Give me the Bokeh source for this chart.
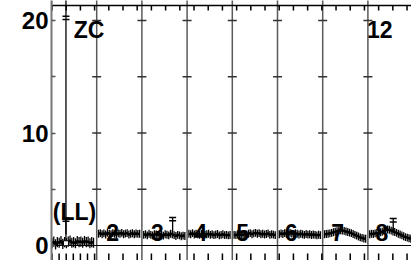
import numpy as np
from bokeh.plotting import figure
from bokeh.models import Range1d, FixedTicker
from bokeh.embed import file_html
from bokeh.resources import INLINE
from bokeh.core.properties import value

# ---- data ----
seg1 = [0.20, 0.35, 0.10, 0.30, 0.25, 0.40, 0.15, 0.30, 0.20, 0.35, 0.45, 0.25,
        0.30, 0.20, 0.40, 0.30, 0.35, 0.25, 0.40, 0.30, 0.35, 0.20, 0.30, 0.25]
seg2 = [1.05, 1.10, 1.00, 1.08, 0.98, 1.12, 1.05, 1.00, 1.10, 1.03, 0.97, 1.08,
        1.05, 1.12, 1.00, 1.06, 1.10, 0.98, 1.04, 1.09, 1.00, 1.07, 1.03, 1.05]
seg3 = [0.95, 1.00, 0.90, 1.05, 0.95, 0.90, 1.00, 0.98, 0.92, 1.02, 0.95, 0.88,
        1.00, 0.96, 0.90, 1.05, 1.00, 0.92, 0.85, 0.95, 0.90, 0.82, 0.88, 0.85]
seg4 = [1.05, 1.00, 1.10, 0.98, 1.05, 1.00, 0.95, 1.02, 1.08, 0.97, 1.00, 1.05,
        0.95, 1.00, 0.92, 0.98, 1.02, 0.90, 0.95, 1.00, 0.92, 0.95, 0.90, 0.93]
seg5 = [0.95, 0.92, 1.00, 0.90, 0.98, 0.95, 1.02, 0.97, 1.05, 1.10, 1.00, 1.08,
        1.12, 1.05, 1.10, 1.00, 1.05, 0.98, 1.02, 1.08, 0.95, 1.00, 0.97, 0.92]
seg6 = [1.00, 1.08, 1.02, 1.10, 1.05, 0.98, 1.12, 1.06, 1.00, 1.10, 1.04, 0.98,
        1.05, 1.00, 0.95, 1.02, 0.97, 1.00, 0.93, 0.98, 0.95, 0.90, 0.96, 0.92]
seg7 = [1.00, 1.02, 1.05, 1.08, 1.12, 1.18, 1.22, 1.28, 1.32, 1.35, 1.33, 1.30,
        1.25, 1.20, 1.15, 1.10, 1.02, 0.95, 0.88, 0.80, 0.72, 0.68, 0.62, 0.60]
seg8 = [1.00, 1.05, 1.02, 1.08, 1.12, 1.10, 1.18, 1.22, 1.30, 1.38, 1.42, 1.40,
        1.32, 1.25, 1.20, 1.12, 1.05, 0.98, 0.90, 0.82, 0.75, 0.70, 0.65, 0.60]
segments = [seg1, seg2, seg3, seg4, seg5, seg6, seg7, seg8]
seg_err = [0.45, 0.35, 0.35, 0.35, 0.35, 0.35, 0.35, 0.35]

# isolated points with large error bars
out_x = [0.32, 2.68, 7.56]
out_lo = [1.00, 1.25, 1.30]
out_hi = [2.45, 2.50, 2.40]
spike_x = 0.32
spike_lo = 0.30
spike_caps = [20.38, 20.09]

boundaries = [1, 2, 3, 4, 5, 6, 7]
cross_y = [5, 10, 15, 20]

bottom_labels = ["(LL)", "2", "3", "4", "5", "6", "7", "8"]
bottom_label_x = [0.03, 1.21, 2.20, 3.16, 4.09, 5.16, 6.19, 7.17]
bottom_label_y = [3.0, 1.16, 1.16, 1.16, 1.16, 1.16, 1.16, 1.16]
top_labels = ["ZC", "12"]
top_label_x = [0.49, 6.98]
top_label_y = [19.2, 19.2]

y_ticks = [0, 5, 10, 15, 20]
y_tick_labels = {0: "0", 5: "", 10: "10", 15: "", 20: "20"}

# ---- figure (page has no margin; frame spans x 51..411, y 0..260) ----
PX_X = 45.2     # pixels per segment
PX_Y = 11.25    # pixels per y unit
X0, X1 = 0.0, 360 / PX_X
Y0, Y1 = -15 / PX_Y, 245 / PX_Y
p = figure(width=411, height=260, output_backend="svg", toolbar_location=None,
           x_range=Range1d(X0, X1), y_range=Range1d(Y0, Y1),
           x_axis_location=None, y_axis_location="left",
           min_border_left=51, min_border_right=0, min_border_top=0, min_border_bottom=0)
p.outline_line_color = None
p.xgrid.visible = False
p.ygrid.visible = False
p.background_fill_color = "white"

ax = p.yaxis[0]
ax.ticker = FixedTicker(ticks=y_ticks)
ax.major_label_overrides = y_tick_labels
ax.major_tick_in = 4
ax.major_tick_out = 0
ax.minor_tick_line_color = None
ax.axis_line_color = "#777777"
ax.axis_line_width = 2
ax.major_tick_line_color = "#555555"
ax.major_tick_line_width = 1.5
ax.major_label_text_font = "Liberation Sans"
ax.major_label_text_font_style = "bold"
ax.major_label_text_font_size = "24px"
ax.major_label_text_color = "black"
ax.major_label_standoff = 3

# segment separators with cross ticks
for b in boundaries:
    p.segment(x0=b, y0=Y0 - 1, x1=b, y1=Y1 + 1, line_color="#5a5a5a", line_width=1.5)
bx = [b for b in boundaries for _ in cross_y]
by = [c for _ in boundaries for c in cross_y]
p.scatter(bx, by, marker="dash", size=9, line_color="#333333", line_width=1.5)

# zero line
p.segment(x0=X0, y0=0, x1=X1, y1=0, line_color="black", line_width=1)

# top axis line + ticks
top_y = (245 - 5) / PX_Y
p.segment(x0=X0, y0=top_y, x1=X1, y1=top_y, line_color="black", line_width=1.5)
p.segment(x0=X0, y0=top_y, x1=X0, y1=Y1, line_color="#777777", line_width=2)
top_ticks = [0.011 + 0.3142 * k for k in range(26)]
tick_len = 5 / PX_Y
p.segment(x0=top_ticks, y0=[top_y] * len(top_ticks), x1=top_ticks,
          y1=[top_y - tick_len] * len(top_ticks), line_color="black", line_width=1.5)
# bottom ticks (denser in first segment)
bot_ticks = top_ticks + [t + 0.1571 for t in top_ticks[:3]]
p.segment(x0=bot_ticks, y0=[Y0] * len(bot_ticks), x1=bot_ticks,
          y1=[Y0 + 7 / PX_Y] * len(bot_ticks), line_color="black", line_width=1.5)

# data
for i, (vals, e) in enumerate(zip(segments, seg_err)):
    n = len(vals)
    start, stop = (0.01, 0.93) if i == 0 else (0.04, 0.95)
    xs = i + np.linspace(start, stop, n)
    ys = np.array(vals)
    p.segment(x0=xs, y0=ys - e, x1=xs, y1=ys + e, line_color="black", line_width=1.3)
    p.line(xs, ys, line_color="black", line_width=2.5)

# spike and outliers
p.segment(x0=spike_x, y0=spike_lo, x1=spike_x, y1=Y1 + 1, line_color="black", line_width=1.3)
p.scatter([spike_x] * len(spike_caps), spike_caps, marker="dash", size=7,
          line_color="black", line_width=1.5)
p.segment(x0=out_x, y0=out_lo, x1=out_x, y1=out_hi, line_color="black", line_width=1.3)
p.scatter(out_x + out_x, out_hi + [h - 0.3 for h in out_hi], marker="dash", size=7,
          line_color="black", line_width=1.5)
p.scatter([spike_x], [0.2], marker="square", size=5, fill_color="white",
          line_color="black", line_width=1)

# labels
p.text(bottom_label_x, bottom_label_y, text=bottom_labels, text_font=value("Liberation Sans"),
       text_font_style="bold", text_font_size="23px", text_baseline="alphabetic",
       text_color="black")
p.text(top_label_x, top_label_y, text=top_labels, text_font=value("Liberation Sans"),
       text_font_style="bold", text_font_size="23px", text_baseline="alphabetic",
       text_color="black")

open("out.html", "w").write(file_html(p, INLINE))
